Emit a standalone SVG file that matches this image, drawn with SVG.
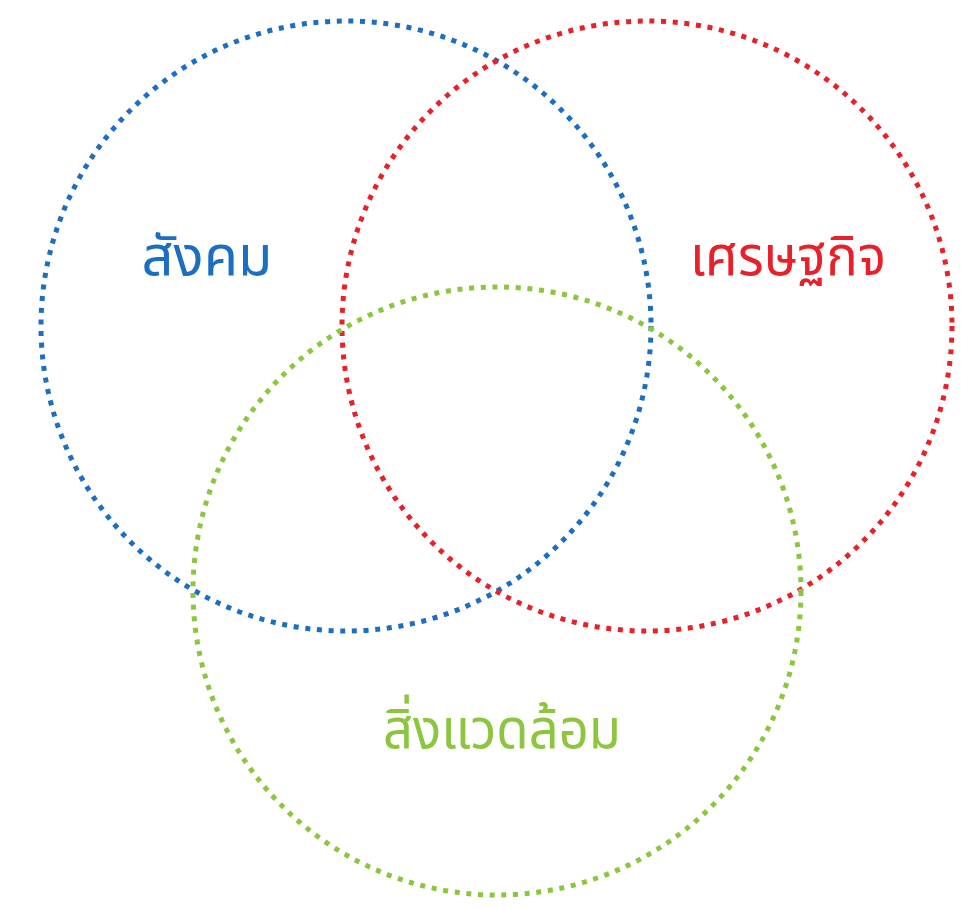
<svg xmlns="http://www.w3.org/2000/svg" width="961" height="908" viewBox="0 0 961 908">
<style>
.c{fill:none;stroke-width:5;stroke-dasharray:5 6.7}
.t{font-family:"Noto Sans Thai","Noto Sans Thai UI","Noto Sans","DejaVu Sans",sans-serif;font-size:56px;text-anchor:middle}
</style>
<rect width="961" height="908" fill="#ffffff"/>
<g id="society">
<circle class="c" cx="346" cy="326" r="305" stroke="#1b6ec2"/>
<text class="t" x="207" y="275" fill="#1b6ec2">สังคม</text>
</g>
<g id="economy">
<circle class="c" cx="647" cy="326" r="305" stroke="#e8202a"/>
<text class="t" x="788" y="275" fill="#e8202a" textLength="196" lengthAdjust="spacingAndGlyphs">เศรษฐกิจ</text>
</g>
<g id="environment">
<circle class="c" cx="497" cy="591" r="304" stroke="#8cc63f"/>
<text class="t" x="502" y="748" fill="#8cc63f" textLength="238" lengthAdjust="spacingAndGlyphs">สิ่งแวดล้อม</text>
</g>
<g id="connectors"/>
</svg>
